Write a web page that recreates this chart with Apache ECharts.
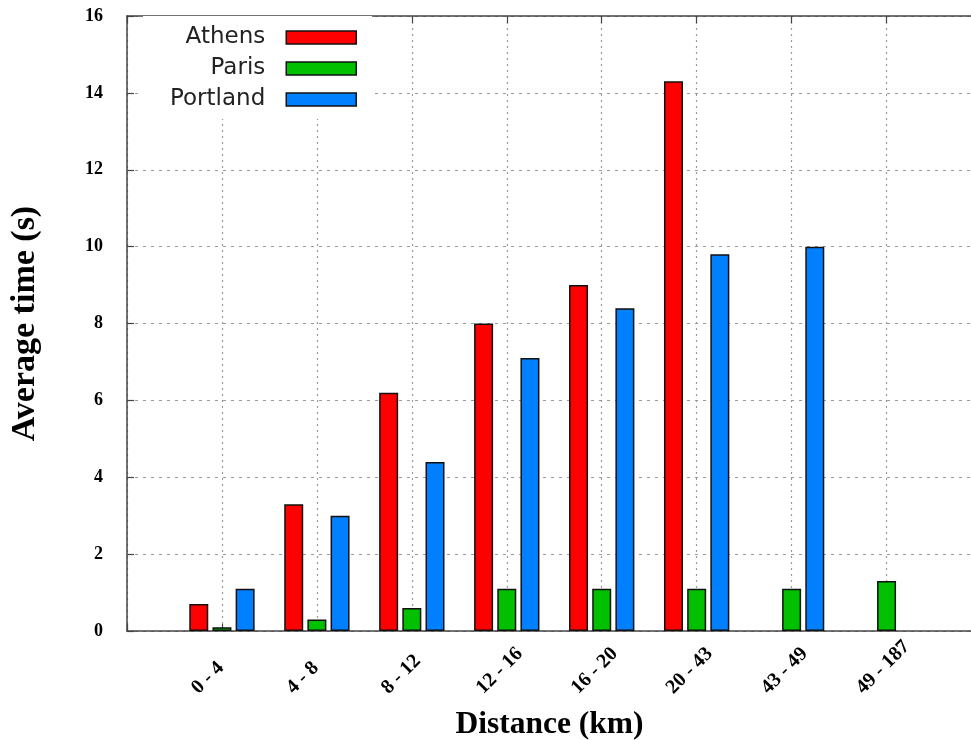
<!DOCTYPE html>
<html>
<head>
<meta charset="utf-8">
<script src="https://cdn.jsdelivr.net/npm/echarts@6/dist/echarts.min.js"></script>
<style>html,body{margin:0;padding:0;background:#fff;}#c{width:971px;height:740px;}</style>
</head>
<body>
<div id="c"></div>
<script>
var categories = ["0 - 4", "4 - 8", "8 - 12", "12 - 16", "16 - 20", "20 - 43", "43 - 49", "49 - 187"];
var athens   = [0.7, 3.3, 6.2, 8.0, 9.0, 14.3, null, null];
var paris    = [0.1, 0.3, 0.6, 1.1, 1.1, 1.1, 1.1, 1.3];
var portland = [1.1, 3.0, 4.4, 7.1, 8.4, 9.8, 10.0, null];

function pairs(arr) {
  return arr.map(function (v, i) { return [i, v]; });
}

var chart = echarts.init(document.getElementById('c'), null, {renderer: 'canvas'});
var serif = 'Liberation Serif';
var axisColor = '#444';

function barSeries(name, arr, color) {
  return {
    name: name,
    type: 'bar',
    xAxisIndex: 0,
    yAxisIndex: 0,
    data: pairs(arr),
    barWidth: 19,
    barGap: '22%',
    itemStyle: {color: color, borderColor: '#111', borderWidth: 1.5},
    emphasis: {disabled: true}
  };
}

function catLabel(v) {
  var i = Math.round(v);
  if (Math.abs(v - i) > 1e-6 || i < 0 || i >= categories.length) return '';
  return categories[i];
}

chart.setOption({
  animation: false,
  backgroundColor: '#fff',
  grid: [
    {left: 127, top: 16, right: -1, bottom: 109, show: false, containLabel: false, outerBoundsMode: 'none'},
    {left: 107, top: 16, right: 19, bottom: 109, show: false, containLabel: false, outerBoundsMode: 'none'}
  ],
  legend: {
    orient: 'vertical',
    left: 143,
    top: 16,
    align: 'right',
    padding: [10, 15, 8, 27],
    backgroundColor: '#fff',
    itemWidth: 70,
    itemHeight: 13,
    itemGap: 8,
    icon: 'rect',
    itemStyle: {borderColor: '#111', borderWidth: 1.5},
    formatter: function (name) { return '{t|' + name + '}{g|}'; },
    textStyle: {
      fontFamily: 'DejaVu Sans', fontSize: 23, color: '#222',
      rich: {
        t: {fontFamily: 'DejaVu Sans', fontSize: 23, color: '#222', width: 100, align: 'right'},
        g: {width: 16}
      }
    },
    data: ['Athens', 'Paris', 'Portland']
  },
  xAxis: [{
    gridIndex: 0,
    type: 'value',
    min: -1,
    max: 7.9,
    interval: 1,
    position: 'bottom',
    name: 'Distance (km)',
    nameLocation: 'middle',
    nameGap: 78,
    nameTextStyle: {fontFamily: serif, fontWeight: 'bold', fontSize: 31.5, color: '#000'},
    axisLine: {show: true, onZero: false, lineStyle: {color: axisColor, width: 1.5}},
    axisTick: {show: true, inside: true, length: 7, lineStyle: {color: axisColor, width: 1.2}},
    axisLabel: {show: false},
    splitLine: {show: true, lineStyle: {color: '#999', type: [2, 4], width: 1.2}}
  }, {
    gridIndex: 0,
    type: 'value',
    min: -1,
    max: 7.9,
    interval: 1,
    position: 'top',
    axisLine: {show: true, onZero: false, lineStyle: {color: axisColor, width: 1.5}},
    axisTick: {show: true, inside: true, length: 7, lineStyle: {color: axisColor, width: 1.2}},
    axisLabel: {show: false},
    splitLine: {show: false}
  }, {
    gridIndex: 1,
    type: 'value',
    min: -1,
    max: 7.9,
    interval: 1,
    position: 'bottom',
    axisLine: {show: false, onZero: false},
    axisTick: {show: false},
    splitLine: {show: false},
    axisLabel: {
      rotate: 45,
      margin: 67,
      align: 'left',
      verticalAlign: 'bottom',
      fontFamily: serif, fontWeight: 'bold', fontSize: 20, color: '#000',
      showMaxLabel: false,
      showMinLabel: false,
      formatter: catLabel
    }
  }],
  yAxis: [{
    gridIndex: 0,
    type: 'value',
    min: 0,
    max: 16,
    interval: 2,
    name: 'Average time (s)',
    nameLocation: 'middle',
    nameGap: 85,
    nameTextStyle: {fontFamily: serif, fontWeight: 'bold', fontSize: 34, color: '#000'},
    axisLine: {show: true, onZero: false, lineStyle: {color: axisColor, width: 1.5}},
    axisTick: {show: true, inside: true, length: 7, lineStyle: {color: axisColor, width: 1.2}},
    axisLabel: {margin: 24, fontFamily: serif, fontWeight: 'bold', fontSize: 18, color: '#000'},
    splitLine: {show: true, lineStyle: {color: '#999', type: [3, 5], width: 1.2}}
  }, {
    gridIndex: 1,
    type: 'value',
    min: 0,
    max: 16,
    interval: 2,
    show: false
  }],
  series: [
    barSeries('Athens', athens, '#ff0000'),
    barSeries('Paris', paris, '#00c000'),
    barSeries('Portland', portland, '#0080ff')
  ]
});
</script>
</body>
</html>
